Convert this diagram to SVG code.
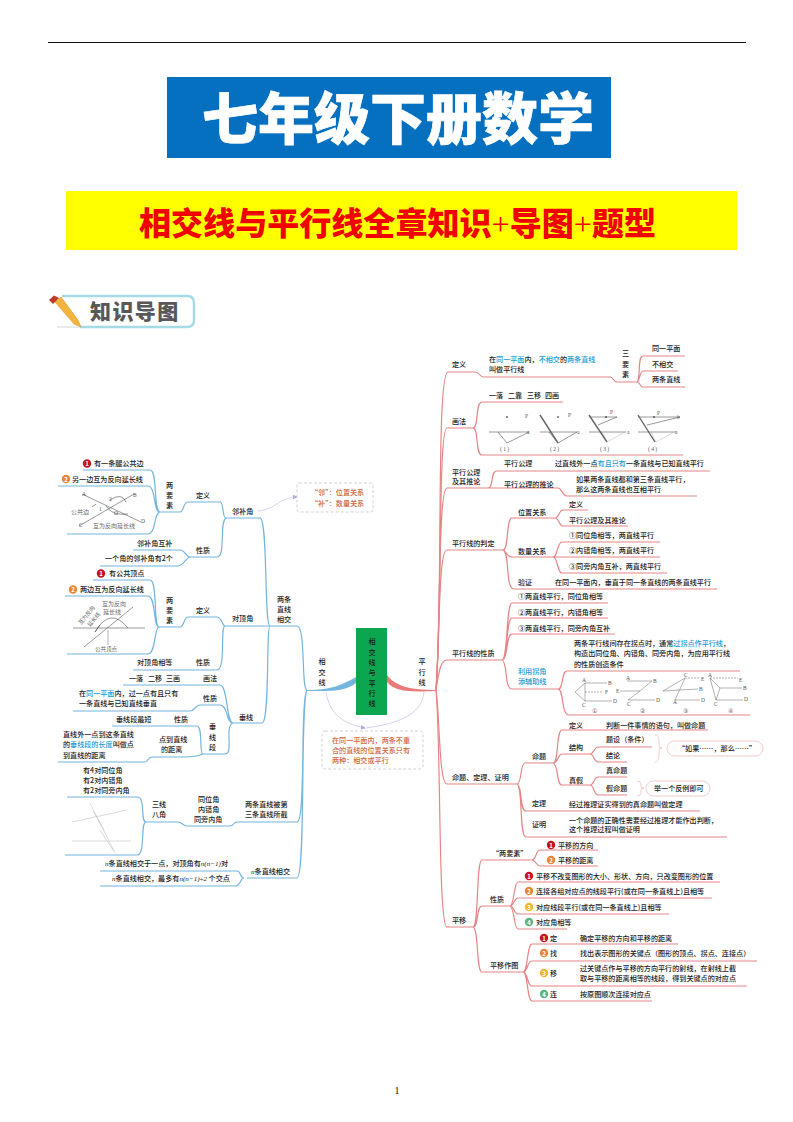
<svg xmlns="http://www.w3.org/2000/svg" width="793" height="1122" viewBox="0 0 793 1122">
<style>
text{font-family:"Noto Sans CJK SC","Liberation Sans",sans-serif;font-size:7.100px;fill:#1a1a1a;font-weight:500}
.b{fill:none;stroke:#74b5dd;stroke-width:1.200}
.r{fill:none;stroke:#e58585;stroke-width:1.200}
.p{fill:none;stroke:#cfc4e8;stroke-width:.8}
.d{fill:#fff;stroke:#c9c4cf;stroke-width:.8;stroke-dasharray:3 2}
.g{fill:none;stroke:#666;stroke-width:.5}
.k{fill:none;stroke:#333;stroke-width:.5}
.y{fill:none;stroke:#b5b5b5;stroke-width:.5}
.ru{fill:none;stroke:#666;stroke-width:1.400}
.pill{fill:#fff;stroke:#e9b4b4;stroke-width:.7}
.c{fill:#1a9bd7}
.o{fill:#d2683a}
.w{fill:#fff;font-size:6px;text-anchor:middle;font-weight:bold}
.s{font-size:5.500px;font-family:"Liberation Serif",serif;fill:#555;font-weight:400}
.m{font-family:"Liberation Serif",serif;font-style:italic;font-weight:400}
.h{font-size:6px;fill:#666;font-weight:400}
</style>
<defs>
<marker id="ah" markerWidth="6" markerHeight="6" refX="5" refY="3" orient="auto"><path d="M0 0L6 3L0 6z" fill="#b9a6e0"/></marker>
</defs>

<g id="page">
<line x1="48" y1="42.500" x2="746" y2="42.500" stroke="#111" stroke-width="1"/>
<text x="397" y="1094" text-anchor="middle" style="font-family:'Liberation Serif',serif;font-size:10px;fill:#111;font-weight:400">1</text>
</g>
<g id="title">
<rect x="167" y="77" width="444" height="81" fill="#0570c0"/>
<text x="202" y="139" style="font-size:56px;font-weight:900;fill:#fff;stroke:#fff;stroke-width:.7">七年级下册数学</text>
</g>
<g id="subtitle">
<rect x="66" y="191" width="671" height="59" fill="#ffff00"/>
<text x="139" y="235" textLength="517" lengthAdjust="spacingAndGlyphs" style="font-size:32px;font-weight:900;fill:#f00000">相交线与平行线全章知识<tspan style="font-family:'Liberation Serif',serif;font-weight:400">+</tspan>导图<tspan style="font-family:'Liberation Serif',serif;font-weight:400">+</tspan>题型</text>
</g>
<g id="badge">
<path d="M62 296H187Q194 296 194 303V320Q194 327 187 327H80" fill="#fff" stroke="#a6dbe6" stroke-width="2.500"/>
<path d="M57 327H80" stroke="#ccc" stroke-width=".8"/>
<path d="M55 302L61 297L78 320L81 327L74 324z" fill="#f3b33d" stroke="#d9901c" stroke-width=".5"/>
<path d="M49 300L54 295.500L59 298L53 304z" fill="#c0392b"/>
<text x="90" y="319" style="font-size:21px;font-weight:900;fill:#595757;letter-spacing:1.400px">知识导图</text>
</g>

<g id="connectors">
<path class="b" d="M83 470H150C158 470 153 512 160 512M58 486H148C156 486 153 512 160 512M67 534H148C156 534 154 512 160 512M160 512H180C184 512 183 502 188 502H220C224 502 222 518 226 518"/>
<path class="b" d="M226 518H260C268 518 264 626 270 626M226 518C219 522 226 557 217 557H190M133 550H180C185 550 186 557 190 557M100 566H177C184 566 186 557 190 557"/>
<path class="b" d="M225 626H270M225 626C222 626 222 617 217 617H188C184 617 184 627 180 627H159M93 580H150C158 580 153 627 159 627M65 596H148C156 596 153 627 159 627M67 654H148C156 654 154 627 159 627M133 670H217C226 670 220 626 225 626"/>
<path class="b" d="M123 685H220C228 685 226 723 233 723M73 711H190C195 711 195 705 200 705H220C228 705 226 723 233 723M233 723H262C270 723 266 626 270 626M233 723C224 726 234 754 225 754H203M112 726H197C203 726 199 754 203 754M58 762H145C148 762 148 757 152 757H183C190 757 197 757 203 754"/>
<path class="b" d="M270 626H297C306 626 301 690 307 690M307 690C300 700 306 822 297 822H237C233 822 234 826 230 826H187C183 826 182 822 178 822H146M67 797H137C146 797 140 822 146 822M65 855H137C146 855 140 822 146 822M307 690C300 700 306 878 297 878H247M100 871H237C241 871 240 878 244 878M100 886H235C241 886 240 878 244 878"/>
<path d="M356 677C340 686 330 690 307 690L307 691C330 691 345 692 356 683z" fill="#74b5dd"/>
<path d="M387 675C395 686 410 690 436 690L436 691C410 692 395 692 387 682z" fill="#e97a7a"/>
<path class="r" d="M436 690C443 600 436 372 448 372H475C480 372 479 377 484 377H610C614 377 613 382 617 382H637M643 356H685M643 371H678M643 387H685M637 382C641 380 637 356 643 356M637 382C640 380 640 371 643 371M637 382C640 382 640 387 643 387"/>
<path class="r" d="M436 690C442 610 438 428 447 428H473C479 428 475 402 482 402H563M473 428C479 428 475 455 482 455H683"/>
<path class="r" d="M436 690C441 620 438 488 447 488H488C494 488 490 471 497 471H710M488 488H558C562 488 562 496 567 496H697"/>
<path class="r" d="M436 690C440 640 438 550 447 550H503C509 550 506 518 512 518H555C559 518 559 510 563 510H588M555 518C559 518 559 526 563 526H628M503 550C507 552 507 557 512 557H553C558 557 557 542 562 542H660M553 557H660M553 557C558 557 557 573 562 573H667M503 550C510 552 505 589 514 589H717"/>
<path class="r" d="M436 690C439 670 441 660 447 660H502C508 660 506 603 512 603H608M502 660C508 660 506 618 512 618H608M502 660C508 660 506 634 512 634H615M502 660C508 662 504 689 512 689H558C564 689 561 671 567 671H740M558 689C564 689 561 715 569 715H750"/>
<path class="r" d="M436 690C440 720 439 784 447 784H517C522 784 520 763 525 763H553C559 763 556 730 562 730H708M553 763C558 763 558 754 562 754H590C594 754 594 747 598 747H652M590 754C594 754 594 762 598 762H627M553 763C559 765 556 785 562 785H590C594 785 594 777 598 777H627M590 785C594 785 594 795 598 795H627M517 784C523 786 519 811 526 811H700M517 784C523 786 519 837 526 837H727"/>
<path class="r" d="M436 690C441 740 438 927 447 927H473C479 927 476 860 482 860H532C536 860 536 850 540 850H598M532 860C536 860 536 866 540 866H598M473 927C479 927 476 906 482 906H510C514 906 514 882 518 882H720M510 906C514 906 514 898 518 898H712M510 906C514 906 514 914 518 914H669M510 906C514 906 514 929 518 929H567M473 927C479 929 476 972 482 972H523C528 972 527 944 532 944H678M523 972C528 972 527 961 532 961H757M523 972C528 972 527 986 532 986H747M523 972C528 972 527 1001 532 1001H652"/>
<path class="g" style="stroke:#d9a0a0" d="M655 735Q659 735 659 741V746Q659 748 662 748Q659 748 659 750V756Q659 762 655 762M637 781Q641 781 641 784V787Q641 788 644 788Q641 788 641 790V793Q641 796 637 796"/>
<path class="p" marker-end="url(#ah)" d="M258 511C275 510 280 497 297 497"/>
<path class="p" marker-end="url(#ah)" d="M326 692C330 716 345 724 365 728"/>
<path class="p" d="M424 692C422 716 395 724 366 728"/>
</g>

<g id="center"><rect x="356" y="628" width="31" height="87" fill="#0da650"/>
<g text-anchor="middle"><text x="372" y="644">相</text><text x="372" y="654.500">交</text><text x="372" y="665">线</text><text x="372" y="675">与</text><text x="372" y="685.500">平</text><text x="372" y="695.500">行</text><text x="372" y="706">线</text></g></g>
<g id="n-xjx" text-anchor="middle"><text x="322" y="664">相</text><text x="322" y="675">交</text><text x="322" y="685">线</text></g>
<g id="n-pxx" text-anchor="middle"><text x="422" y="664">平</text><text x="422" y="675">行</text><text x="422" y="685">线</text></g>
<g id="note-main"><rect class="d" x="322" y="731" width="101" height="38" rx="3"/>
<text class="o" x="332" y="742.500">在同一平面内，两条不重</text><text class="o" x="332" y="752.500">合的直线的位置关系只有</text><text class="o" x="332" y="762.500">两种：相交或平行</text></g>
<g id="note-lb"><rect class="d" x="297" y="483" width="76" height="29" rx="2"/>
<text class="o" x="311" y="494.500">“邻”：位置关系</text><text class="o" x="311" y="505.500">“补”：数量关系</text></g>

<g id="left-adj">
<circle cx="87" cy="463.500" r="4.200" fill="#c5161d"/><text class="w" x="87" y="466">1</text><text x="94" y="466">有一条腿公共边</text>
<circle cx="66" cy="479" r="4.200" fill="#e8853a"/><text class="w" x="66" y="481.500">2</text><text x="72" y="482">另一边互为反向延长线</text>
<text x="166" y="488">两</text><text x="166" y="498">要</text><text x="166" y="508">素</text>
<text x="196" y="498">定义</text><text x="232" y="514">邻补角</text><text x="196" y="553">性质</text>
<text x="137" y="546">邻补角互补</text><text x="105" y="561">一个角的邻补角有2个</text>
<g class="fig"><path class="k" d="M82 494L141 522M79 526L134 494"/><path class="k" d="M92 507L96 504M106 506Q112 516 128 514M110 500Q122 492 126 502"/>
<text class="s" x="82" y="496">A</text><text class="s" x="133" y="497">B</text><text class="s" x="79" y="527">C</text><text class="s" x="141" y="523">D</text><text class="s" x="109" y="501">2</text><text class="s" x="99" y="511">1</text><text class="s" x="114" y="515">O</text>
<text class="h" x="71" y="514">公共边</text><text class="h" x="93" y="528">互为反向延长线</text></g>
</g>
<g id="left-opp">
<circle cx="101" cy="573.500" r="4.200" fill="#c5161d"/><text class="w" x="101" y="576">1</text><text x="109" y="576">有公共顶点</text>
<circle cx="73" cy="589.500" r="4.200" fill="#e8853a"/><text class="w" x="73" y="592">2</text><text x="80" y="592">两边互为反向延长线</text>
<text x="166" y="602.500">两</text><text x="166" y="612.500">要</text><text x="166" y="622.500">素</text>
<text x="196" y="613">定义</text><text x="232" y="621">对顶角</text><text x="196" y="665">性质</text><text x="137" y="665">对顶角相等</text>
<g class="fig"><path class="k" d="M73 628H145M84 647L133 607"/><path class="k" d="M95 632Q110 606 128 628M95 632L100 625"/>
<path class="g" d="M108 630V645"/>
<text class="h" x="95" y="651" style="font-size:5.500px">公共顶点</text>
<text class="h" x="102" y="606">互为反向</text><text class="h" x="103" y="614">延长线</text>
<text class="h" x="0" y="0" transform="translate(81 625) rotate(-50)" style="font-size:5.500px">互为反向</text><text class="h" x="0" y="0" transform="translate(90 627) rotate(-50)" style="font-size:5.500px">延长线</text></g>
</g>
<g id="left-perp">
<text x="129" y="681">一落</text><text x="148" y="681">二移</text><text x="166" y="681">三画</text><text x="203" y="681">画法</text>
<text x="79" y="696">在<tspan class="c">同一平面</tspan>内，过一点有且只有</text><text x="79" y="706">一条直线与已知直线垂直</text>
<text x="203" y="701">性质</text><text x="239" y="720">垂线</text>
<text x="209" y="729">垂</text><text x="209" y="740">线</text><text x="209" y="750">段</text>
<text x="116" y="722">垂线段最短</text><text x="174" y="722">性质</text>
<text x="159" y="742">点到直线</text><text x="161" y="752">的距离</text>
<text x="63" y="737">直线外一点到这条直线</text><text x="63" y="747">的<tspan class="c">垂线段的长度</tspan>叫做点</text><text x="63" y="758">到直线的距离</text>
</g>
<g id="left-3">
<text x="83" y="773">有4对同位角</text><text x="83" y="783">有2对内错角</text><text x="83" y="793">有2对同旁内角</text>
<g class="fig"><path class="y" d="M72 822L127 810M72 841H131M90 803L115 853M93 811L104 830M100 830L113 850"/></g>
<text x="152" y="807">三线</text><text x="152" y="817">八角</text>
<text x="198" y="802">同位角</text><text x="198" y="812">内错角</text><text x="194" y="822">同旁内角</text>
<text x="245" y="807">两条直线被第</text><text x="245" y="817">三条直线所截</text>
<text x="105" y="866"><tspan class="m">n</tspan>条直线相交于一点，对顶角有<tspan class="m">n</tspan><tspan class="m">(n−1)</tspan>对</text>
<text x="112" y="881"><tspan class="m">n</tspan>条直线相交，最多有<tspan class="m">n(n−1)÷2</tspan> 个交点</text>
<text x="251" y="874"><tspan class="m">n</tspan>条直线相交</text>
<text x="277" y="602">两条</text><text x="277" y="612">直线</text><text x="277" y="622">相交</text>
</g>

<g id="r-def">
<text x="452" y="367">定义</text>
<text x="489" y="362">在<tspan class="c">同一平面</tspan>内，<tspan class="c">不相交</tspan>的<tspan class="c">两条直线</tspan></text><text x="489" y="372">叫做平行线</text>
<text x="622" y="356">三</text><text x="622" y="367">要</text><text x="622" y="377">素</text>
<text x="652" y="351">同一平面</text><text x="652" y="367">不相交</text><text x="652" y="382">两条直线</text>
</g>
<g id="r-draw">
<text x="452" y="424">画法</text>
<text x="489" y="398">一落</text><text x="508" y="398">二靠</text><text x="527" y="398">三移</text><text x="545" y="398">四画</text>
<path class="k" d="M489 432H529L507 443L498 432M540 432H577L558 443L549 432M589 432H626M589 417H617L598 425M638 432H676M638 417H680L647 425"/>
<path class="y" d="M602 432L607 442L625 432M651 432L656 442L674 432"/>
<path class="ru" d="M540 415L558 443M589 415L607 442M638 415L655 442"/>
<circle cx="507" cy="417" r=".8"/><circle cx="558" cy="417" r=".8"/><circle cx="606" cy="417" r=".8"/><circle cx="654" cy="417" r=".8"/>
<text class="s" x="525" y="418">P</text><text class="s" x="568" y="417">P</text><text class="s" x="610" y="414">P</text><text class="s" x="657" y="415">P</text><text class="s" x="677" y="419">b</text>
<text class="s" x="527" y="434">a</text><text class="s" x="577" y="434">a</text><text class="s" x="627" y="434">a</text><text class="s" x="675" y="434">a</text>
<text class="s" x="500" y="451">( 1 )</text><text class="s" x="550" y="451">( 2 )</text><text class="s" x="600" y="451">( 3 )</text><text class="s" x="648" y="451">( 4 )</text>
</g>
<g id="r-ax">
<text x="452" y="475">平行公理</text><text x="452" y="484">及其推论</text>
<text x="504" y="466">平行公理</text><text x="555" y="466">过直线外一点<tspan class="c">有且只有</tspan>一条直线与已知直线平行</text>
<text x="504" y="487">平行公理的推论</text><text x="576" y="482">如果两条直线都和第三条直线平行，</text><text x="576" y="492">那么这两条直线也互相平行</text>
</g>
<g id="r-judge">
<text x="452" y="546">平行线的判定</text>
<text x="518" y="515">位置关系</text><text x="569" y="507">定义</text><text x="569" y="523">平行公理及其推论</text>
<text x="518" y="554">数量关系</text><text x="569" y="538">①同位角相等，两直线平行</text><text x="569" y="553">②内错角相等，两直线平行</text><text x="569" y="569">③同旁内角互补，两直线平行</text>
<text x="518" y="585">验证</text><text x="555" y="585">在同一平面内，垂直于同一条直线的两条直线平行</text>
</g>
<g id="r-prop">
<text x="452" y="656">平行线的性质</text>
<text x="518" y="599">①两直线平行，同位角相等</text><text x="518" y="615">②两直线平行，内错角相等</text><text x="518" y="631">③两直线平行，同旁内角互补</text>
<text class="c" x="518" y="674">利用拐角</text><text class="c" x="518" y="684">添辅助线</text>
<text x="574" y="646">两条平行线间存在拐点时，通常<tspan class="c">过拐点作平行线</tspan>，</text><text x="574" y="656">构造出同位角、内错角、同旁内角，为应用平行线</text><text x="574" y="667">的性质创造条件</text>
<path class="g" d="M585 683H607M575 692L585 683M575 692L585 701H612M585 683V701"/>
<path class="g" stroke-dasharray="2 1" d="M585 692H603M685 678H700M710 678H738"/>
<path class="g" d="M627 681H652L640 691L628 700H655M620 691H640M675 700H700M685 678L675 700M663 691L685 678M663 691L698 689M710 678L720 688L716 700H743M720 688H742M710 678L716 700"/>
<text class="s" x="582" y="682">A</text><text class="s" x="608" y="685">B</text><text class="s" x="605" y="694">F</text><text class="s" x="582" y="707">C</text><text class="s" x="613" y="703">D</text>
<text class="s" x="626" y="680">A</text><text class="s" x="653" y="683">B</text><text class="s" x="616" y="693">E</text><text class="s" x="627" y="706">C</text><text class="s" x="656" y="702">D</text>
<text class="s" x="684" y="677">C</text><text class="s" x="701" y="681">E</text><text class="s" x="699" y="691">B</text><text class="s" x="673" y="704">A</text><text class="s" x="701" y="702">D</text>
<text class="s" x="708" y="677">A</text><text class="s" x="739" y="682">E</text><text class="s" x="743" y="690">B</text><text class="s" x="714" y="706">C</text><text class="s" x="744" y="701">D</text>
<text class="s" x="592" y="713">①</text><text class="s" x="640" y="713">②</text><text class="s" x="683" y="713">③</text><text class="s" x="728" y="713">④</text>
</g>
<g id="r-prop2">
<text x="452" y="780">命题、定理、证明</text><text x="532" y="759">命题</text>
<text x="569" y="728">定义</text><text x="606" y="728">判断一件事情的语句，叫做命题</text>
<text x="569" y="750">结构</text><text x="606" y="742">题设（条件）</text><text x="606" y="758">结论</text>
<rect class="pill" x="667" y="741" width="96" height="15" rx="7.500"/><text x="678" y="751">“如果……，那么……”</text>
<text x="569" y="783">真假</text><text x="606" y="773">真命题</text><text x="606" y="791">假命题</text>
<rect class="pill" x="646" y="781" width="64" height="15" rx="7.500"/><text x="654" y="791">举一个反例即可</text>
<text x="532" y="806">定理</text><text x="569" y="807">经过推理证实得到的真命题叫做定理</text>
<text x="532" y="827">证明</text><text x="569" y="823">一个命题的正确性需要经过推理才能作出判断，</text><text x="569" y="832">这个推理过程叫做证明</text>
</g>
<g id="r-move">
<text x="452" y="923">平移</text>
<text x="492" y="856">“两要素”</text>
<circle cx="551" cy="845" r="4.200" fill="#c5161d"/><text class="w" x="551" y="847.500">1</text><text x="558" y="848">平移的方向</text>
<circle cx="551" cy="860" r="4.200" fill="#e8853a"/><text class="w" x="551" y="862.500">2</text><text x="558" y="863">平移的距离</text>
<text x="490" y="902">性质</text>
<circle cx="529" cy="876" r="4.200" fill="#c5161d"/><text class="w" x="529" y="878.500">1</text><text x="536" y="879">平移不改变图形的大小、形状、方向，只改变图形的位置</text>
<circle cx="529" cy="891" r="4.200" fill="#e8853a"/><text class="w" x="529" y="893.500">2</text><text x="536" y="894">连接各组对应点的线段平行(或在同一条直线上)且相等</text>
<circle cx="529" cy="907" r="4.200" fill="#f2b632"/><text class="w" x="529" y="909.500">3</text><text x="536" y="910">对应线段平行(或在同一条直线上)且相等</text>
<circle cx="529" cy="922" r="4.200" fill="#5cb47f"/><text class="w" x="529" y="924.500">4</text><text x="536" y="925">对应角相等</text>
<text x="490" y="968">平移作图</text>
<circle cx="544" cy="938" r="4.200" fill="#c5161d"/><text class="w" x="544" y="940.500">1</text><text x="550" y="941">定</text><text x="580" y="941">确定平移的方向和平移的距离</text>
<circle cx="544" cy="953" r="4.200" fill="#e8853a"/><text class="w" x="544" y="955.500">2</text><text x="550" y="956">找</text><text x="580" y="956">找出表示图形的关键点（图形的顶点、拐点、连接点）</text>
<circle cx="544" cy="973" r="4.200" fill="#f2b632"/><text class="w" x="544" y="975.500">3</text><text x="550" y="976">移</text><text x="580" y="971">过关键点作与平移的方向平行的射线，在射线上截</text><text x="580" y="981">取与平移的距离相等的线段，得到关键点的对应点</text>
<circle cx="544" cy="994" r="4.200" fill="#5cb47f"/><text class="w" x="544" y="996.500">4</text><text x="550" y="997">连</text><text x="580" y="997">按原图顺次连接对应点</text>
</g>
</svg>
